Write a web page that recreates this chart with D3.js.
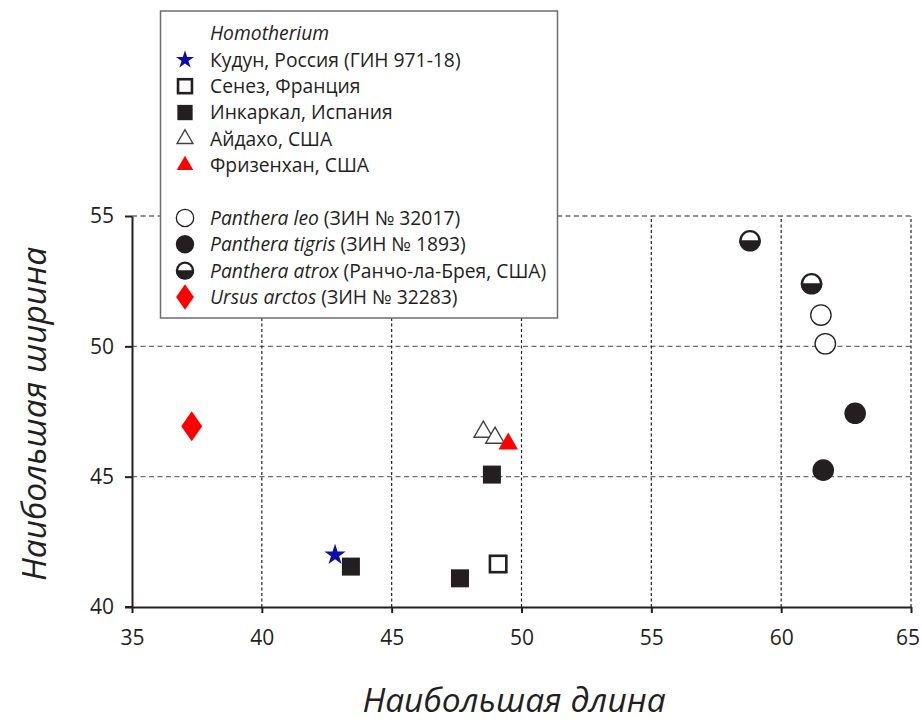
<!DOCTYPE html>
<html><head><meta charset="utf-8">
<script src="https://cdnjs.cloudflare.com/ajax/libs/d3/7.8.5/d3.min.js"></script>
<style>body{margin:0;background:#fff}svg{display:block}text{font-family:"Open Sans",sans-serif;fill:#231f20}</style>
</head><body><svg id="c" width="922" height="722"></svg>
<script>
// ---- data ----
const xTicks = [35, 40, 45, 50, 55, 60, 65];
const yTicks = [40, 45, 50, 55];
const kudunX = [42.82], kudunY = [42.0];
const senezX = [49.1], senezY = [41.65];
const incarcalX = [43.43, 47.63, 48.86], incarcalY = [41.55, 41.1, 45.08];
const idahoX = [48.53, 48.98], idahoY = [46.72, 46.49];
const friesenhahnX = [49.49], friesenhahnY = [46.26];
const leoX = [61.53, 61.7], leoY = [51.2, 50.1];
const tigrisX = [62.85, 61.62], tigrisY = [47.43, 45.25];
const atroxX = [58.8, 61.17], atroxY = [54.05, 52.4];
const ursusX = [37.3], ursusY = [46.93];
const legendLabels = [
  {italic: "Homotherium", rest: "", sym: null},
  {italic: "", rest: "Кудун, Россия (ГИН 971-18)", sym: "star"},
  {italic: "", rest: "Сенез, Франция", sym: "openSquare"},
  {italic: "", rest: "Инкаркал, Испания", sym: "square"},
  {italic: "", rest: "Айдахо, США", sym: "openTriangle"},
  {italic: "", rest: "Фризенхан, США", sym: "redTriangle"},
  null,
  {italic: "Panthera leo", rest: " (ЗИН № 32017)", sym: "openCircle"},
  {italic: "Panthera tigris", rest: " (ЗИН № 1893)", sym: "circle"},
  {italic: "Panthera atrox", rest: " (Ранчо-ла-Брея, США)", sym: "half"},
  {italic: "Ursus arctos", rest: " (ЗИН № 32283)", sym: "diamond"}
];
const xTitle = "Наибольшая длина", yTitle = "Наибольшая ширина";

const BLACK = "#231f20", RED = "#ff0000", BLUE = "#0c0ca6";
const svg = d3.select("#c");
const x = d3.scaleLinear().domain([35, 65]).range([132, 911]);
const y = d3.scaleLinear().domain([40, 55]).range([607, 216]);

// grid
const g = svg.append("g");
g.selectAll(".hg").data(yTicks.filter(d => d > 40)).join("line")
  .attr("x1", x(35)).attr("x2", x(65)).attr("y1", d => y(d)).attr("y2", d => y(d))
  .attr("stroke", "#6d6e71").attr("stroke-width", 1.4).attr("stroke-dasharray", "5,3.5");
g.selectAll(".vg").data(xTicks.filter(d => d > 35)).join("line")
  .attr("x1", d => x(d)).attr("x2", d => x(d)).attr("y1", y(40)).attr("y2", y(55))
  .attr("stroke", "#231f20").attr("stroke-width", 1.2).attr("stroke-dasharray", "3,2.5");

// axes
const xa = svg.append("g").attr("transform", `translate(0,${y(40)})`)
  .call(d3.axisBottom(x).tickValues(xTicks).tickSize(6).tickPadding(17).tickSizeOuter(0));
const ya = svg.append("g").attr("transform", `translate(${x(35)},0)`)
  .call(d3.axisLeft(y).tickValues(yTicks).tickSize(7).tickPadding(11).tickSizeOuter(0));
[xa, ya].forEach(a => {
  a.select(".domain").attr("stroke", BLACK).attr("stroke-width", 2);
  a.selectAll(".tick line").attr("stroke", BLACK).attr("stroke-width", 2);
  a.selectAll(".tick text").attr("font-family", "Open Sans").attr("font-size", 21).attr("fill", BLACK);
});
xa.selectAll(".tick text").filter(d => d === 65).attr("dx", -3.5);
svg.append("line").attr("x1", x(35) - 7).attr("x2", x(35)).attr("y1", y(40)).attr("y2", y(40))
  .attr("stroke", BLACK).attr("stroke-width", 2);

// symbols
function draw(parent, type, cx, cy, s) {
  const gg = parent.append("g").attr("transform", `translate(${cx},${cy})`);
  if (type === "star") gg.append("path").attr("d", d3.symbol(d3.symbolStar, 140 * s * s)()).attr("fill", BLUE);
  if (type === "square") gg.append("rect").attr("x", -9 * s).attr("y", -9 * s).attr("width", 18 * s).attr("height", 18 * s).attr("fill", BLACK);
  if (type === "openSquare") gg.append("rect").attr("x", -8.2 * s).attr("y", -8.2 * s).attr("width", 16.4 * s).attr("height", 16.4 * s).attr("fill", "#fff").attr("stroke", BLACK).attr("stroke-width", 2.6);
  if (type === "openTriangle") gg.append("path").attr("d", d3.symbol(d3.symbolTriangle, 150 * s * s)()).attr("fill", "#fff").attr("stroke", "#414042").attr("stroke-width", 1.4);
  if (type === "redTriangle") gg.append("path").attr("d", d3.symbol(d3.symbolTriangle, 165 * s * s)()).attr("fill", RED);
  if (type === "openCircle") gg.append("circle").attr("r", 10.2 * s).attr("fill", "#fff").attr("stroke", BLACK).attr("stroke-width", 1.3);
  if (type === "circle") gg.append("circle").attr("r", 10.8 * s).attr("fill", BLACK);
  if (type === "half") {
    const r = 10.8 * s;
    gg.append("circle").attr("r", r - 1.2).attr("fill", "#fff").attr("stroke", BLACK).attr("stroke-width", 2.4);
    gg.append("path").attr("d", `M${-r},-0.5 A${r},${r} 0 0,0 ${r},-0.5 Z`).attr("fill", BLACK);
  }
  if (type === "diamond") gg.append("path").attr("d", `M0,${-15 * s} L${10.5 * s},0 L0,${15 * s} L${-10.5 * s},0 Z`).attr("fill", RED);
}
const series = [
  ["diamond", ursusX, ursusY], ["star", kudunX, kudunY], ["square", incarcalX, incarcalY],
  ["openSquare", senezX, senezY], ["openTriangle", idahoX, idahoY], ["redTriangle", friesenhahnX, friesenhahnY],
  ["openCircle", leoX, leoY], ["circle", tigrisX, tigrisY], ["half", atroxX, atroxY]
];
const pts = svg.append("g");
series.forEach(([t, xs, ys]) => xs.forEach((v, i) => draw(pts, t, x(v), y(ys[i]), 1)));

// legend
const lg = svg.append("g");
lg.append("rect").attr("x", 160.5).attr("y", 11).attr("width", 397).attr("height", 307)
  .attr("fill", "#fff").attr("stroke", "#6d6e71").attr("stroke-width", 1.5);
legendLabels.forEach((d, i) => {
  if (!d) return;
  const cy = 33.5 + i * 26.35;
  if (d.sym) draw(lg, d.sym, 185, cy, 0.85);
  const t = lg.append("text").attr("x", 210).attr("y", cy).attr("dy", "0.36em").attr("font-size", 19.3);
  if (d.italic) t.append("tspan").attr("font-style", "italic").text(d.italic);
  if (d.rest) t.append("tspan").text(d.rest);
});

// titles
svg.append("text").attr("x", 514).attr("y", 712).attr("text-anchor", "middle")
  .attr("font-size", 33.5).attr("font-style", "italic").text(xTitle);
svg.append("text").attr("transform", "translate(46,414) rotate(-90)").attr("text-anchor", "middle")
  .attr("font-size", 33.5).attr("font-style", "italic").text(yTitle);
</script></body></html>
